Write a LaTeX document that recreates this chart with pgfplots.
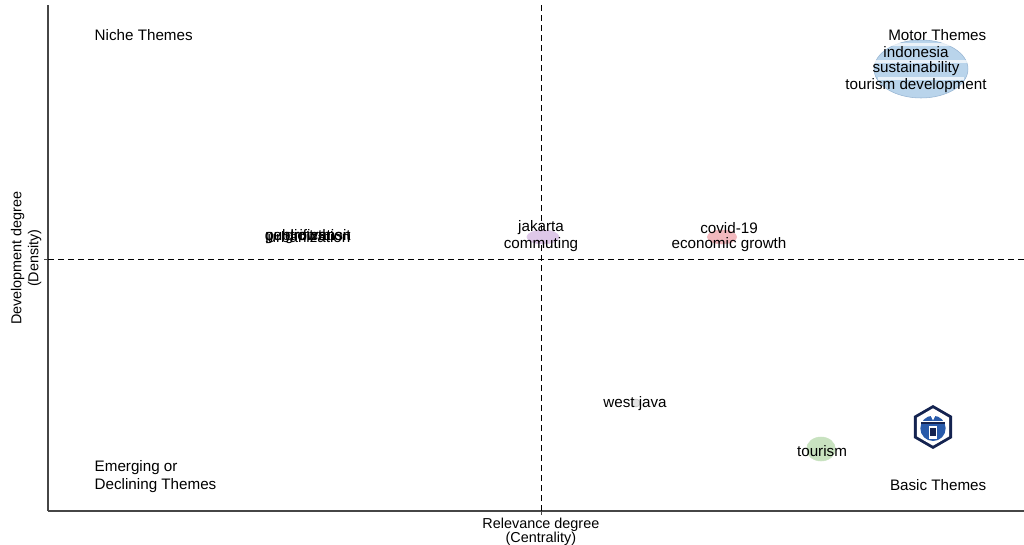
\documentclass[border=0pt]{standalone}
\usepackage{pgfplots}
\pgfplotsset{compat=1.18}
\usepackage{fontspec}
\setmainfont{Liberation Sans}
\definecolor{axgray}{RGB}{70,70,70}
\definecolor{bblue}{RGB}{185,212,235}
\definecolor{bbluee}{RGB}{150,180,210}
\definecolor{bpurple}{RGB}{222,200,232}
\definecolor{bpink}{RGB}{242,185,190}
\definecolor{bgreen}{RGB}{200,226,192}
\definecolor{bgrey}{RGB}{228,228,228}
\definecolor{navy}{RGB}{20,35,80}
\definecolor{logoblue}{RGB}{40,90,170}
\begin{document}
\begin{tikzpicture}
\begin{axis}[
  set layers,
  scale only axis,
  width=732pt, height=379.5pt,
  xmin=48, xmax=1024, ymin=33, ymax=539,
  axis lines=left,
  axis line style={-, axgray, line width=1.1pt},
  xtick={541}, ytick={285},
  xticklabels={}, yticklabels={},
  tick style={axgray, line width=0.6pt},
  major tick length=3pt,
  tick align=outside,
  clip=false,
  font=\fontsize{11.4}{12.75}\selectfont,
  xlabel={Relevance degree\\(Centrality)},
  ylabel={Development degree\\(Density)},
  xlabel style={at={(axis description cs:0.505,0)}, anchor=north, yshift=-1.5pt, align=center, font=\fontsize{10.8}{10.5}\selectfont},
  ylabel style={at={(axis description cs:0,0.5)}, anchor=south, yshift=1.5pt, align=center, font=\fontsize{10.8}{12.75}\selectfont},
]
% quadrant dividers
\draw[black, dash pattern=on 4.5pt off 3pt, line width=0.75pt] (axis cs:48,285) -- (axis cs:1024,285);
\draw[black, dash pattern=on 4.5pt off 3pt, line width=0.75pt] (axis cs:541,33) -- (axis cs:541,539);

% bubbles
\addplot[only marks, mark=*, mark size=21.75pt, mark options={xscale=1.62, fill=bblue, draw=bbluee, line width=0.4pt}] coordinates {(921,475)};
\addplot[only marks, mark=*, mark size=5.25pt, mark options={xscale=2.3, fill=bpurple, draw=bpurple}] coordinates {(543,307)};
\addplot[only marks, mark=*, mark size=5.25pt, mark options={xscale=2.1, fill=bpink, draw=bpink}] coordinates {(722,307)};
\addplot[only marks, mark=*, mark size=3pt, mark options={fill=bgrey, draw=gray!60, line width=0.3pt}] coordinates {(636,141)};
\addplot[only marks, mark=*, mark size=9pt, mark options={xscale=1.2, fill=bgreen, draw=bgreen}] coordinates {(821,95)};
\addplot[only marks, mark=*, mark size=2pt, mark options={fill=bgrey, draw=bgrey}] coordinates {(308,307)};

\begin{pgfonlayer}{axis foreground}
% white bands across the motor bubble
\fill[white, opacity=0.7] (axis cs:880,498) rectangle (axis cs:962,501);
\fill[white, opacity=0.7] (axis cs:875,481) rectangle (axis cs:967,484);
\fill[white, opacity=0.7] (axis cs:878,464) rectangle (axis cs:964,467);
% labels
\node at (axis cs:916,492) {indonesia};
\node at (axis cs:916,475) {sustainability};
\node at (axis cs:916,458) {tourism development};
\node at (axis cs:541,316) {jakarta};
\node at (axis cs:541,299) {commuting};
\node at (axis cs:729,316) {covid-19};
\node at (axis cs:729,299) {economic growth};
\node at (axis cs:635,140) {west java};
\node at (axis cs:822,93) {tourism};
\node at (axis cs:308,307) {gentrification};
\node at (axis cs:309,307) {urbanization};
\node at (axis cs:308,307) {growth};
\node at (axis cs:308,307) {public transit};

% quadrant names
\node[anchor=west] at (axis cs:90,509) {Niche Themes};
\node[anchor=east] at (axis cs:991,509) {Motor Themes};
\node[anchor=west, align=left, font=\fontsize{11.4}{13.5}\selectfont] at (axis cs:90,67) {Emerging or\\Declining Themes};
\node[anchor=east] at (axis cs:991,59) {Basic Themes};

% logo
\begin{scope}[shift={(axis cs:933,117)}]
\fill[navy] (90:16.5pt) -- (30:16.5pt) -- (-30:16.5pt) -- (-90:16.5pt) -- (-150:16.5pt) -- (150:16.5pt) -- cycle;
\fill[white] (90:14pt) -- (30:14pt) -- (-30:14pt) -- (-90:14pt) -- (-150:14pt) -- (150:14pt) -- cycle;
\fill[logoblue] (0pt,-1pt) circle[radius=9.5pt];
\fill[white] (-10pt,2pt) rectangle (10pt,4.5pt);
\fill[navy] (-9pt,2.6pt) rectangle (9pt,3.9pt);
\fill[white] (-3pt,-9pt) rectangle (3pt,0.5pt);
\fill[navy] (-2pt,-7pt) rectangle (2pt,-1pt);
\fill[white] (0pt,5pt) -- (2.5pt,10pt) -- (-2.5pt,10pt) -- cycle;
\end{scope}
\end{pgfonlayer}
\end{axis}
\pgfresetboundingbox
\path (-36pt,-24.75pt) rectangle (732pt,383.25pt);
\end{tikzpicture}
\end{document}
